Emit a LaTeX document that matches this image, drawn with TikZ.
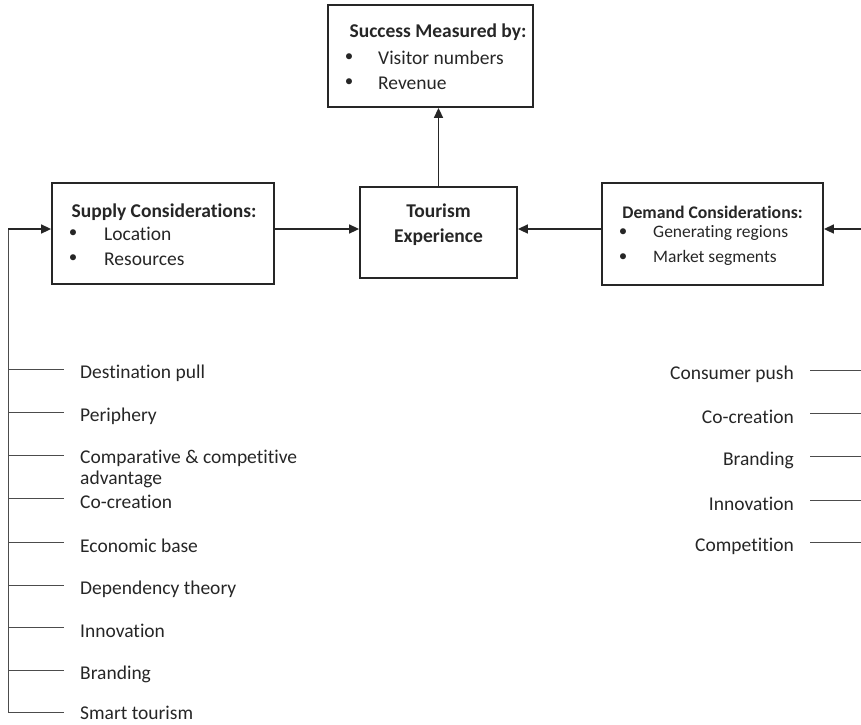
\documentclass[tikz,border=0pt]{standalone}
\usepackage{fontspec}
\setmainfont{Carlito}[Ligatures=NoCommon]
\usetikzlibrary{arrows.meta}
\begin{document}
\begin{tikzpicture}[x=1pt,y=-1pt,
  box/.style={draw=black!85,line width=1.8pt,rectangle,inner sep=0pt},
  arr/.style={line width=1.6pt,draw=black!85,-{Triangle[length=10pt,width=9pt]}},
  thin/.style={line width=0.9pt,draw=black!70},
  txt/.style={font=\fontsize{19.5}{21}\selectfont,inner sep=0pt,text=black!85},
  stxt/.style={font=\fontsize{17.5}{19}\selectfont,inner sep=0pt,text=black!85},
  ttl/.style={font=\fontsize{19.5}{21}\selectfont\bfseries,inner sep=0pt,text=black!85},
  sttl/.style={font=\fontsize{17.7}{19}\selectfont\bfseries,inner sep=0pt,text=black!85},
  bul/.style={font=\fontsize{17}{19}\selectfont,inner sep=0pt,text=black!85},
  lft/.style={txt,anchor=west,align=left},
  rgt/.style={txt,anchor=east,align=right}]
\useasboundingbox (0,0) rectangle (861,724);
% boxes
\node[box,minimum width=205pt,minimum height=102pt] (succ) at (430.5,56) {};
\node[box,minimum width=222pt,minimum height=101pt] (supp) at (163,233.5) {};
\node[box,minimum width=157pt,minimum height=91pt] (tour) at (438.5,232.5) {};
\node[box,minimum width=221pt,minimum height=102pt] (dem) at (712.5,234) {};
% success text
\node[ttl] (st) at (438,32) {Success Measured by:};
\node[bul] (sb1) at (349,58) {\textbullet};
\node[bul] (sb2) at (349,83) {\textbullet};
\node[txt,anchor=west] (s1) at (378,58) {Visitor numbers};
\node[txt,anchor=west] (s2) at (378,83) {Revenue};
% supply text
\node[ttl] (pt) at (164,212) {Supply Considerations:};
\node[bul] (pb1) at (73,234) {\textbullet};
\node[bul] (pb2) at (73,259) {\textbullet};
\node[txt,anchor=west] (p1) at (104,234) {Location};
\node[txt,anchor=west] (p2) at (104,259) {Resources};
% tourism text
\node[ttl] (t1) at (438.5,211) {Tourism};
\node[ttl] (t2) at (438.5,237) {Experience};
% demand text
\node[sttl] (dt) at (712.5,212) {Demand Considerations:};
\node[bul] (db1) at (623,233) {\textbullet};
\node[bul] (db2) at (623,258) {\textbullet};
\node[stxt,anchor=west] (d1) at (653,233) {Generating regions};
\node[stxt,anchor=west] (d2) at (653,258) {Market segments};
% arrows
\coordinate (ay) at (0,229);
\draw[arr] (tour.north) -- (tour.north |- succ.south);
\draw[arr] (supp.east |- ay) -- (tour.west |- ay);
\draw[arr] (dem.west |- ay) -- (tour.east |- ay);
\coordinate (rin) at (861,229);
\draw[arr] (rin) -- (dem.east |- rin);
\coordinate (ltop) at (8,229);
\coordinate (lbot) at (8,712);
\draw[thin] (lbot) -- (ltop);
\draw[arr] (ltop) -- (supp.west |- ltop);
% left list
\foreach \n/\y/\t in {a/369/Destination pull, b/412/Periphery, d/498/Co-creation, e/542/Economic base, f/585/Dependency theory, g/627/Innovation, h/670/Branding}{
  \node[lft] (l\n) at (80,\y+4) {\t};
  \coordinate (lc\n) at (64,\y);
  \draw[thin] (ltop |- lc\n) -- (lc\n);
}
\node[lft] (li) at (80,713) {Smart tourism};
\coordinate (lci) at (64,712);
\draw[thin] (lbot) -- (lci);
\node[lft] (lc) at (80,469) {Comparative \& competitive\\advantage};
\coordinate (lcc) at (64,455);
\draw[thin] (ltop |- lcc) -- (lcc);
% right list
\foreach \n/\y/\t in {a/370/Consumer push, b/413/Co-creation, c/456/Branding, d/500/Innovation, e/542/Competition}{
  \node[rgt] (r\n) at (794,\y+4) {\t};
  \coordinate (rc\n) at (810,\y);
  \draw[thin] (rc\n) -- (861,\y);
}
\end{tikzpicture}
\end{document}
